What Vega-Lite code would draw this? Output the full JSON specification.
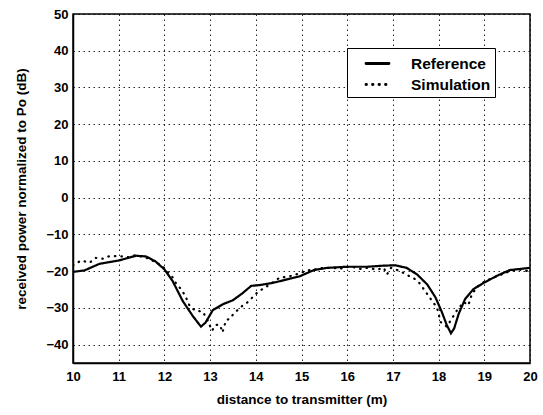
{
  "$schema": "https://vega.github.io/schema/vega-lite/v6.json",
  "autosize": "none",
  "width": 457,
  "height": 349,
  "padding": {"left": 73, "top": 14, "right": 13, "bottom": 52},
  "background": "white",
  "config": {
    "font": "Liberation Sans",
    "view": {"stroke": "black", "strokeWidth": 1.5},
    "axis": {
      "labelFont": "Liberation Sans",
      "labelFontWeight": "bold",
      "labelFontSize": 13,
      "labelColor": "black",
      "titleFont": "Liberation Sans",
      "titleFontWeight": "bold",
      "titleFontSize": 13.5,
      "titleColor": "black",
      "domainColor": "black",
      "domainWidth": 1.5,
      "ticks": false,
      "tickSize": 0,
      "grid": true,
      "gridColor": "black",
      "gridDash": [1.5, 3.5],
      "gridWidth": 1,
      "gridOpacity": 0.85
    }
  },
  "data": {
    "values": [
      {"x": 10.0, "y": -20.2, "series": "Reference"},
      {"x": 10.25, "y": -19.8, "series": "Reference"},
      {"x": 10.58, "y": -18.0, "series": "Reference"},
      {"x": 11.0, "y": -17.1, "series": "Reference"},
      {"x": 11.38, "y": -15.8, "series": "Reference"},
      {"x": 11.6, "y": -16.0, "series": "Reference"},
      {"x": 11.8, "y": -17.3, "series": "Reference"},
      {"x": 12.0, "y": -19.5, "series": "Reference"},
      {"x": 12.18, "y": -22.7, "series": "Reference"},
      {"x": 12.4, "y": -28.1, "series": "Reference"},
      {"x": 12.62, "y": -32.2, "series": "Reference"},
      {"x": 12.8, "y": -35.1, "series": "Reference"},
      {"x": 12.9, "y": -34.0, "series": "Reference"},
      {"x": 13.06, "y": -30.6, "series": "Reference"},
      {"x": 13.28, "y": -29.0, "series": "Reference"},
      {"x": 13.5, "y": -27.9, "series": "Reference"},
      {"x": 13.7, "y": -26.1, "series": "Reference"},
      {"x": 13.9, "y": -24.0, "series": "Reference"},
      {"x": 14.08, "y": -23.8, "series": "Reference"},
      {"x": 14.37, "y": -23.2, "series": "Reference"},
      {"x": 14.6, "y": -22.5, "series": "Reference"},
      {"x": 14.96, "y": -21.4, "series": "Reference"},
      {"x": 15.27, "y": -19.7, "series": "Reference"},
      {"x": 15.56, "y": -19.1, "series": "Reference"},
      {"x": 16.0, "y": -18.8, "series": "Reference"},
      {"x": 16.44, "y": -18.8, "series": "Reference"},
      {"x": 16.8, "y": -18.5, "series": "Reference"},
      {"x": 17.05, "y": -18.4, "series": "Reference"},
      {"x": 17.3, "y": -19.1, "series": "Reference"},
      {"x": 17.53, "y": -20.9, "series": "Reference"},
      {"x": 17.75, "y": -23.6, "series": "Reference"},
      {"x": 17.93, "y": -27.1, "series": "Reference"},
      {"x": 18.07, "y": -31.1, "series": "Reference"},
      {"x": 18.18, "y": -34.7, "series": "Reference"},
      {"x": 18.27, "y": -36.9, "series": "Reference"},
      {"x": 18.34, "y": -35.6, "series": "Reference"},
      {"x": 18.44, "y": -31.6, "series": "Reference"},
      {"x": 18.58, "y": -27.6, "series": "Reference"},
      {"x": 18.76, "y": -24.9, "series": "Reference"},
      {"x": 19.0, "y": -23.1, "series": "Reference"},
      {"x": 19.27, "y": -21.3, "series": "Reference"},
      {"x": 19.56, "y": -19.7, "series": "Reference"},
      {"x": 20.0, "y": -19.1, "series": "Reference"},
      {"x": 10.0, "y": -18.4, "series": "Simulation"},
      {"x": 10.18, "y": -17.1, "series": "Simulation"},
      {"x": 10.36, "y": -17.7, "series": "Simulation"},
      {"x": 10.5, "y": -16.4, "series": "Simulation"},
      {"x": 10.65, "y": -16.6, "series": "Simulation"},
      {"x": 10.78, "y": -16.0, "series": "Simulation"},
      {"x": 10.95, "y": -15.9, "series": "Simulation"},
      {"x": 11.1, "y": -16.0, "series": "Simulation"},
      {"x": 11.2, "y": -16.2, "series": "Simulation"},
      {"x": 11.35, "y": -15.7, "series": "Simulation"},
      {"x": 11.5, "y": -16.0, "series": "Simulation"},
      {"x": 11.66, "y": -16.6, "series": "Simulation"},
      {"x": 11.96, "y": -18.6, "series": "Simulation"},
      {"x": 12.03, "y": -19.8, "series": "Simulation"},
      {"x": 12.15, "y": -21.1, "series": "Simulation"},
      {"x": 12.25, "y": -23.2, "series": "Simulation"},
      {"x": 12.37, "y": -25.0, "series": "Simulation"},
      {"x": 12.46, "y": -26.8, "series": "Simulation"},
      {"x": 12.56, "y": -29.7, "series": "Simulation"},
      {"x": 12.69, "y": -30.8, "series": "Simulation"},
      {"x": 12.84, "y": -31.0, "series": "Simulation"},
      {"x": 12.95, "y": -33.5, "series": "Simulation"},
      {"x": 13.04, "y": -36.2, "series": "Simulation"},
      {"x": 13.13, "y": -34.6, "series": "Simulation"},
      {"x": 13.22, "y": -34.7, "series": "Simulation"},
      {"x": 13.27, "y": -36.7, "series": "Simulation"},
      {"x": 13.35, "y": -33.3, "series": "Simulation"},
      {"x": 13.43, "y": -33.0, "series": "Simulation"},
      {"x": 13.52, "y": -31.5, "series": "Simulation"},
      {"x": 13.7, "y": -29.5, "series": "Simulation"},
      {"x": 13.86, "y": -28.1, "series": "Simulation"},
      {"x": 13.97, "y": -26.5, "series": "Simulation"},
      {"x": 14.08, "y": -25.4, "series": "Simulation"},
      {"x": 14.26, "y": -24.0, "series": "Simulation"},
      {"x": 14.52, "y": -21.8, "series": "Simulation"},
      {"x": 14.74, "y": -21.4, "series": "Simulation"},
      {"x": 14.88, "y": -20.9, "series": "Simulation"},
      {"x": 15.02, "y": -20.3, "series": "Simulation"},
      {"x": 15.13, "y": -19.8, "series": "Simulation"},
      {"x": 15.27, "y": -19.6, "series": "Simulation"},
      {"x": 15.42, "y": -19.2, "series": "Simulation"},
      {"x": 15.64, "y": -19.1, "series": "Simulation"},
      {"x": 15.85, "y": -19.3, "series": "Simulation"},
      {"x": 16.07, "y": -18.7, "series": "Simulation"},
      {"x": 16.29, "y": -19.4, "series": "Simulation"},
      {"x": 16.44, "y": -19.1, "series": "Simulation"},
      {"x": 16.65, "y": -19.6, "series": "Simulation"},
      {"x": 16.8, "y": -19.1, "series": "Simulation"},
      {"x": 16.87, "y": -20.9, "series": "Simulation"},
      {"x": 16.96, "y": -19.1, "series": "Simulation"},
      {"x": 17.16, "y": -20.0, "series": "Simulation"},
      {"x": 17.35, "y": -21.3, "series": "Simulation"},
      {"x": 17.49, "y": -22.2, "series": "Simulation"},
      {"x": 17.56, "y": -22.9, "series": "Simulation"},
      {"x": 17.7, "y": -25.3, "series": "Simulation"},
      {"x": 17.85, "y": -28.0, "series": "Simulation"},
      {"x": 17.96, "y": -29.8, "series": "Simulation"},
      {"x": 18.0, "y": -31.6, "series": "Simulation"},
      {"x": 18.04, "y": -33.8, "series": "Simulation"},
      {"x": 18.18, "y": -35.1, "series": "Simulation"},
      {"x": 18.29, "y": -32.9, "series": "Simulation"},
      {"x": 18.4, "y": -30.7, "series": "Simulation"},
      {"x": 18.55, "y": -28.4, "series": "Simulation"},
      {"x": 18.65, "y": -29.3, "series": "Simulation"},
      {"x": 18.73, "y": -26.2, "series": "Simulation"},
      {"x": 18.87, "y": -24.0, "series": "Simulation"},
      {"x": 19.02, "y": -22.7, "series": "Simulation"},
      {"x": 19.2, "y": -21.8, "series": "Simulation"},
      {"x": 19.38, "y": -20.9, "series": "Simulation"},
      {"x": 19.56, "y": -20.0, "series": "Simulation"},
      {"x": 19.78, "y": -19.6, "series": "Simulation"},
      {"x": 19.96, "y": -20.0, "series": "Simulation"}
    ]
  },
  "mark": {"type": "line", "color": "black", "strokeWidth": 2.2, "strokeCap": "round", "clip": true},
  "encoding": {
    "x": {
      "field": "x",
      "type": "quantitative",
      "scale": {"domain": [10, 20], "nice": false, "zero": false},
      "axis": {
        "title": "distance to transmitter (m)",
        "values": [10, 11, 12, 13, 14, 15, 16, 17, 18, 19, 20],
        "labelPadding": 7,
        "titlePadding": 9,
        "labelFlush": false
      }
    },
    "y": {
      "field": "y",
      "type": "quantitative",
      "scale": {"domain": [-45, 50], "nice": false, "zero": false},
      "axis": {
        "title": "received power normalized to Po (dB)",
        "values": [-40, -30, -20, -10, 0, 10, 20, 30, 40, 50],
        "labelPadding": 5,
        "titlePadding": 17,
        "labelFlush": false
      }
    },
    "strokeDash": {
      "field": "series",
      "type": "nominal",
      "scale": {"domain": ["Reference", "Simulation"], "range": [[1, 0], [0.5, 6]]},
      "legend": {
        "title": null,
        "orient": "none",
        "legendX": 274,
        "legendY": 34,
        "direction": "vertical",
        "strokeColor": "black",
        "fillColor": "white",
        "padding": 4,
        "symbolOffset": 15,
        "symbolType": "M-1.15,0L1.15,0",
        "symbolSize": 400,
        "symbolStrokeWidth": 2.8,
        "symbolStrokeColor": "black",
        "symbolFillColor": "transparent",
        "labelFont": "Liberation Sans",
        "labelFontWeight": "bold",
        "labelFontSize": 15.5,
        "labelColor": "black",
        "labelOffset": 22,
        "rowPadding": 1,
        "encode": {"symbols": {"update": {"strokeCap": {"value": "round"}}}}
      }
    }
  }
}
